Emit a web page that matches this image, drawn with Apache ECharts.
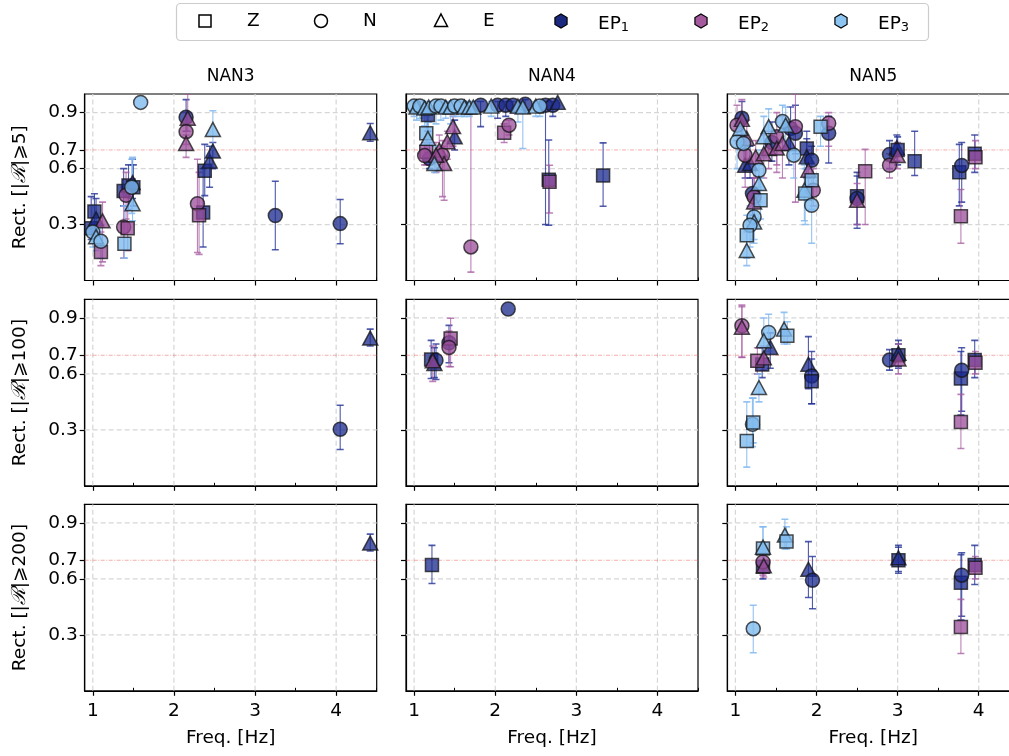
<!DOCTYPE html>
<html><head><meta charset="utf-8">
<script src="https://cdn.jsdelivr.net/npm/echarts@6/dist/echarts.min.js"></script>
<style>html,body{margin:0;padding:0;background:#fff}#c{width:1009px;height:756px}</style>
</head><body><div id="c"></div>
<script>
// ---------- axis ticks / labels ----------
const FREQ_TICKS = [1, 2, 3, 4];
const FREQ_MINOR = [1.5, 2.5, 3.5, 4.5];
const RECT_TICKS = [0.3, 0.6, 0.7, 0.9];
const RECT_GRID = [0.3, 0.6, 0.9];
const THRESHOLD = 0.7;
const STATIONS = ['NAN3', 'NAN4', 'NAN5'];
const THRESH_LABELS = ['5', '100', '200'];
const SHAPE_LABELS = ['Z', 'N', 'E'];
const EP_LABELS = ['1', '2', '3'];

// ---------- data: [freq, rect, errLow, errHigh, component] ----------
// NAN3, |R|>=5
const N3_R5_EP1 = [[1.02,0.37,0.30,0.465,'Z'],[0.98,0.28,0.22,0.45,'Z'],[1.04,0.33,0.26,0.44,'E'],[1.38,0.48,0.40,0.60,'Z'],[1.44,0.51,0.38,0.62,'Z'],[1.50,0.50,0.40,0.62,'Z'],[1.49,0.525,0.44,0.65,'E'],[2.15,0.875,0.80,0.97,'N'],[2.36,0.365,0.18,0.60,'Z'],[2.38,0.588,0.455,0.73,'Z'],[2.44,0.64,0.50,0.72,'E'],[2.48,0.694,0.60,0.74,'E'],[3.25,0.348,0.165,0.532,'N'],[4.05,0.305,0.197,0.434,'N'],[4.42,0.792,0.747,0.842,'E']];
const N3_R5_EP2 = [[1.12,0.32,0.10,0.42,'E'],[1.10,0.153,0.08,0.26,'Z'],[1.38,0.287,0.12,0.50,'N'],[1.43,0.28,0.16,0.45,'Z'],[1.41,0.457,0.33,0.58,'N'],[2.17,0.87,0.80,1.0,'E'],[2.15,0.798,0.73,0.90,'N'],[2.15,0.735,0.66,0.78,'E'],[2.29,0.412,0.15,0.65,'N'],[2.31,0.35,0.14,0.58,'Z']];
const N3_R5_EP3 = [[1.59,0.955,0.955,0.955,'N'],[1.00,0.26,0.18,0.40,'N'],[1.04,0.235,0.16,0.36,'E'],[1.10,0.21,0.12,0.30,'N'],[1.39,0.197,0.12,0.40,'Z'],[1.49,0.412,0.32,0.66,'E'],[1.48,0.50,0.36,0.65,'N'],[2.48,0.81,0.70,0.91,'E']];
// NAN4, |R|>=5
const N4_R5_EP1 = [[1.17,0.887,0.80,0.93,'Z'],[1.19,0.654,0.60,0.74,'N'],[1.50,0.77,0.70,0.86,'E'],[1.82,0.94,0.825,0.96,'N'],[2.03,0.94,0.87,0.96,'N'],[2.13,0.94,0.88,0.96,'N'],[2.22,0.94,0.90,0.96,'N'],[2.37,0.945,0.90,0.97,'N'],[2.62,0.94,0.30,0.96,'N'],[2.71,0.94,0.88,0.96,'N'],[2.77,0.955,0.955,0.955,'E'],[2.66,0.54,0.296,0.753,'Z'],[3.33,0.563,0.398,0.738,'Z']];
const N4_R5_EP2 = [[1.48,0.825,0.72,0.88,'E'],[1.41,0.744,0.65,0.80,'E'],[1.31,0.699,0.60,0.78,'E'],[1.15,0.69,0.62,0.76,'Z'],[1.13,0.67,0.62,0.74,'N'],[1.35,0.672,0.45,0.75,'N'],[1.37,0.627,0.43,0.72,'E'],[1.27,0.672,0.58,0.74,'E'],[2.11,0.792,0.74,0.84,'Z'],[2.17,0.833,0.78,0.86,'N'],[1.70,0.18,0.045,0.93,'N'],[2.67,0.529,0.362,0.618,'Z']];
const N4_R5_EP3 = [[1.00,0.935,0.88,0.96,'N'],[1.03,0.93,0.86,0.96,'E'],[1.07,0.935,0.87,0.96,'N'],[1.13,0.925,0.83,0.96,'E'],[1.18,0.93,0.85,0.96,'E'],[1.27,0.935,0.84,0.96,'N'],[1.33,0.935,0.86,0.96,'N'],[1.39,0.93,0.87,0.96,'E'],[1.45,0.93,0.84,0.96,'E'],[1.50,0.935,0.88,0.96,'N'],[1.58,0.935,0.88,0.96,'N'],[1.62,0.93,0.88,0.96,'E'],[1.68,0.93,0.88,0.96,'E'],[1.73,0.93,0.90,0.96,'E'],[1.95,0.935,0.88,0.96,'E'],[2.28,0.935,0.85,0.96,'E'],[2.34,0.93,0.708,0.96,'E'],[2.50,0.935,0.88,0.96,'E'],[2.55,0.935,0.88,0.96,'N'],[1.15,0.789,0.70,0.88,'Z'],[1.17,0.762,0.67,0.85,'E'],[1.25,0.627,0.58,0.72,'E']];
// NAN5, |R|>=5
const N5_R5_EP1 = [[1.08,0.87,0.78,0.96,'N'],[1.12,0.618,0.55,0.72,'E'],[1.18,0.627,0.55,0.72,'E'],[1.21,0.466,0.35,0.55,'N'],[1.45,0.74,0.64,0.85,'N'],[1.66,0.735,0.62,0.85,'E'],[1.68,0.815,0.70,0.93,'N'],[1.74,0.79,0.68,0.94,'N'],[2.15,0.79,0.63,0.88,'N'],[1.88,0.708,0.60,0.80,'Z'],[1.88,0.663,0.55,0.76,'E'],[1.94,0.645,0.55,0.72,'N'],[2.50,0.452,0.28,0.58,'Z'],[2.50,0.44,0.30,0.56,'N'],[2.90,0.676,0.60,0.75,'N'],[2.99,0.712,0.64,0.78,'E'],[3.00,0.70,0.62,0.77,'Z'],[3.21,0.64,0.563,0.80,'Z'],[3.76,0.58,0.40,0.73,'Z'],[3.79,0.617,0.42,0.74,'N'],[3.95,0.68,0.58,0.78,'Z']];
const N5_R5_EP2 = [[1.02,0.833,0.75,0.94,'N'],[1.08,0.864,0.74,0.97,'E'],[1.14,0.762,0.65,0.86,'E'],[1.12,0.672,0.50,0.78,'N'],[1.25,0.663,0.55,0.75,'E'],[1.23,0.448,0.30,0.60,'N'],[1.23,0.421,0.30,0.55,'E'],[1.41,0.708,0.60,0.80,'E'],[1.35,0.68,0.55,0.78,'E'],[1.51,0.771,0.62,0.90,'N'],[1.51,0.71,0.58,0.80,'E'],[1.58,0.735,0.55,0.88,'E'],[1.74,0.825,0.42,1.0,'N'],[2.15,0.843,0.72,0.90,'N'],[1.90,0.591,0.50,0.70,'E'],[1.96,0.484,0.40,0.60,'N'],[2.50,0.43,0.30,0.52,'E'],[2.60,0.586,0.30,0.703,'Z'],[2.90,0.618,0.55,0.68,'N'],[3.00,0.67,0.60,0.74,'E'],[3.78,0.344,0.20,0.488,'Z'],[3.96,0.661,0.60,0.75,'Z']];
const N5_R5_EP3 = [[1.02,0.744,0.60,0.84,'N'],[1.06,0.815,0.70,0.90,'E'],[1.10,0.735,0.60,0.85,'N'],[1.29,0.591,0.50,0.70,'N'],[1.29,0.52,0.42,0.62,'E'],[1.31,0.43,0.33,0.55,'Z'],[1.23,0.341,0.22,0.45,'N'],[1.23,0.314,0.20,0.42,'E'],[1.18,0.296,0.18,0.40,'N'],[1.14,0.242,0.12,0.35,'Z'],[1.14,0.161,0.08,0.26,'E'],[1.41,0.825,0.72,0.92,'E'],[1.35,0.771,0.66,0.88,'E'],[1.58,0.852,0.74,0.94,'N'],[1.62,0.833,0.72,0.93,'E'],[1.72,0.672,0.55,0.80,'N'],[2.05,0.825,0.72,0.88,'Z'],[1.94,0.538,0.38,0.66,'Z'],[1.85,0.484,0.32,0.62,'E'],[1.86,0.466,0.30,0.60,'Z'],[1.94,0.403,0.20,0.52,'N']];
// |R|>=100
const N3_R100_EP1 = [[4.05,0.303,0.195,0.432,'N'],[4.42,0.792,0.75,0.84,'E']];
const N3_R100_EP2 = [];
const N3_R100_EP3 = [];
const N4_R100_EP1 = [[1.21,0.677,0.575,0.78,'Z'],[1.27,0.673,0.57,0.76,'N'],[1.25,0.656,0.58,0.74,'E'],[1.43,0.767,0.66,0.86,'N'],[2.16,0.948,0.948,0.948,'N']];
const N4_R100_EP2 = [[1.45,0.79,0.638,0.898,'Z'],[1.43,0.742,0.64,0.83,'N'],[1.23,0.67,0.56,0.75,'E']];
const N4_R100_EP3 = [];
const N5_R100_EP1 = [[1.33,0.65,0.58,0.74,'Z'],[1.43,0.742,0.63,0.82,'E'],[1.90,0.652,0.52,0.80,'E'],[1.94,0.589,0.44,0.72,'N'],[1.94,0.56,0.44,0.68,'Z'],[2.90,0.674,0.62,0.73,'N'],[3.01,0.70,0.64,0.76,'Z'],[3.01,0.71,0.63,0.78,'E'],[3.78,0.575,0.38,0.72,'Z'],[3.79,0.62,0.40,0.74,'N'],[3.95,0.675,0.58,0.78,'Z']];
const N5_R100_EP2 = [[1.08,0.858,0.688,0.969,'N'],[1.08,0.85,0.69,0.96,'E'],[1.27,0.67,0.60,0.74,'Z'],[1.35,0.686,0.62,0.75,'E'],[3.01,0.68,0.60,0.76,'E'],[3.78,0.342,0.20,0.49,'Z'],[3.96,0.66,0.60,0.72,'Z']];
const N5_R100_EP3 = [[1.41,0.822,0.72,0.92,'N'],[1.35,0.778,0.70,0.90,'E'],[1.60,0.84,0.76,0.93,'E'],[1.64,0.805,0.76,0.88,'Z'],[1.29,0.527,0.45,0.60,'E'],[1.21,0.33,0.21,0.47,'N'],[1.22,0.34,0.23,0.47,'Z'],[1.14,0.24,0.10,0.45,'Z']];
// |R|>=200
const N3_R200_EP1 = [[4.42,0.792,0.75,0.84,'E']];
const N3_R200_EP2 = [];
const N3_R200_EP3 = [];
const N4_R200_EP1 = [[1.22,0.674,0.575,0.78,'Z']];
const N4_R200_EP2 = [];
const N4_R200_EP3 = [];
const N5_R200_EP1 = [[1.34,0.665,0.60,0.74,'Z'],[1.90,0.652,0.50,0.80,'E'],[1.95,0.593,0.44,0.72,'N'],[3.01,0.70,0.63,0.77,'Z'],[3.01,0.713,0.64,0.78,'E'],[3.78,0.58,0.38,0.73,'Z'],[3.79,0.62,0.40,0.74,'N'],[3.95,0.675,0.57,0.78,'Z']];
const N5_R200_EP2 = [[1.34,0.691,0.62,0.76,'N'],[1.35,0.67,0.61,0.74,'E'],[3.78,0.342,0.20,0.49,'Z'],[3.96,0.66,0.60,0.72,'Z']];
const N5_R200_EP3 = [[1.22,0.333,0.204,0.459,'N'],[1.34,0.763,0.66,0.88,'Z'],[1.34,0.77,0.68,0.88,'E'],[1.61,0.835,0.76,0.92,'E'],[1.63,0.80,0.76,0.88,'Z']];

const PANELS = [
  [[N3_R5_EP1,N3_R5_EP2,N3_R5_EP3],[N4_R5_EP1,N4_R5_EP2,N4_R5_EP3],[N5_R5_EP1,N5_R5_EP2,N5_R5_EP3]],
  [[N3_R100_EP1,N3_R100_EP2,N3_R100_EP3],[N4_R100_EP1,N4_R100_EP2,N4_R100_EP3],[N5_R100_EP1,N5_R100_EP2,N5_R100_EP3]],
  [[N3_R200_EP1,N3_R200_EP2,N3_R200_EP3],[N4_R200_EP1,N4_R200_EP2,N4_R200_EP3],[N5_R200_EP1,N5_R200_EP2,N5_R200_EP3]]
];

// ---------- styling / layout ----------
const FONT = '"DejaVu Sans", Verdana, sans-serif';
const FS = 18.5;
const TITLE_FS = 17;
const EP_FILL = ['rgba(26,40,140,0.75)', 'rgba(154,76,152,0.75)', 'rgba(127,186,238,0.8)'];
const EP_ERR  = ['rgba(35,50,150,0.8)', 'rgba(166,90,160,0.75)', 'rgba(130,185,240,0.85)'];
const EP_SOLID = ['#1b2a7e', '#a55a9e', '#8cc4f2'];
const SHAPE_SYM = {Z: ['rect', 13], N: ['circle', 14], E: ['triangle', [15, 14]]};
const COL_LEFT = [84.7, 406, 727.3], PANEL_W = 292;
const ROW_TOP = [94, 299.3, 504.3], PANEL_H = 186.5;

const grids = [], xAxes = [], yAxes = [], series = [];
for (let r = 0; r < 3; r++) {
  for (let c = 0; c < 3; c++) {
    const g = r * 3 + c;
    grids.push({left: COL_LEFT[c], top: ROW_TOP[r], width: PANEL_W, height: PANEL_H,
      show: true, borderColor: '#000', borderWidth: 1.2, backgroundColor: 'transparent',
      containLabel: false, outerBoundsMode: 'none'});
    xAxes.push({gridIndex: g, type: 'value', min: 0.9, max: 4.5,
      axisLine: {show: true, onZero: false, lineStyle: {color: '#000', width: 1.2}},
      axisTick: {show: true, customValues: FREQ_TICKS, length: 5, lineStyle: {color: '#000', width: 1.2}},
      axisLabel: {show: r === 2, customValues: FREQ_TICKS, margin: 11, color: '#000', fontSize: FS, fontFamily: FONT},
      splitLine: {show: false},
      name: r === 2 ? 'Freq. [Hz]' : '', nameLocation: 'middle', nameGap: 38,
      nameTextStyle: {color: '#000', fontSize: FS, fontFamily: FONT}});
    xAxes.push({gridIndex: g, type: 'value', min: 0.9, max: 4.5,
      axisLine: {show: false}, axisLabel: {show: false}, splitLine: {show: false},
      axisTick: {show: true, customValues: FREQ_MINOR, length: 3, lineStyle: {color: '#000', width: 1}}});
    yAxes.push({gridIndex: g, type: 'value', min: 0, max: 1,
      axisLine: {show: true, onZero: false, lineStyle: {color: '#000', width: 1.2}},
      axisTick: {show: true, customValues: RECT_TICKS, length: 5, lineStyle: {color: '#000', width: 1.2}},
      axisLabel: {show: c === 0, customValues: RECT_TICKS, margin: 7, color: '#000', fontSize: FS, fontFamily: FONT,
        formatter: v => v.toFixed(1)},
      splitLine: {show: false},
      name: c === 0 ? 'Rect. [|{s|\u211B}|\u2A7E' + THRESH_LABELS[r] + ']' : '', nameLocation: 'middle', nameGap: 55,
      nameRotate: 90, nameTextStyle: {color: '#000', fontSize: FS, fontFamily: FONT,
        rich: {s: {fontSize: FS + 1, fontFamily: '"DejaVu Serif", serif', fontStyle: 'italic', color: '#000'}}}});
    // grid lines and threshold line (drawn through the axes' scales)
    series.push({type: 'custom', xAxisIndex: 2 * g, yAxisIndex: g, silent: true, z: 1, clip: true,
      data: [[1, 0.5]], encode: {x: 0, y: 1},
      renderItem: (p, api) => {
        const ch = [];
        FREQ_TICKS.forEach(f => {
          const a = api.coord([f, 0]), b = api.coord([f, 1]);
          ch.push({type: 'line', shape: {x1: a[0], y1: a[1], x2: b[0], y2: b[1]},
            style: {stroke: '#d6d6d6', lineWidth: 1.2, lineDash: [5, 3]}});
        });
        RECT_GRID.forEach(v => {
          const a = api.coord([0.9, v]), b = api.coord([4.5, v]);
          ch.push({type: 'line', shape: {x1: a[0], y1: a[1], x2: b[0], y2: b[1]},
            style: {stroke: '#d6d6d6', lineWidth: 1.2, lineDash: [5, 3]}});
        });
        const a = api.coord([0.9, THRESHOLD]), b = api.coord([4.5, THRESHOLD]);
        ch.push({type: 'line', shape: {x1: a[0], y1: a[1], x2: b[0], y2: b[1]},
          style: {stroke: 'rgba(235,90,90,0.55)', lineWidth: 0.9, lineDash: [4, 1.5, 1, 1.5]}});
        return {type: 'group', children: ch};
      }});
    const eps = PANELS[r][c];
    // error bars
    eps.forEach((arr, e) => {
      if (!arr.length) return;
      series.push({type: 'custom', xAxisIndex: 2 * g, yAxisIndex: g, silent: true, z: 2, clip: true,
        data: arr.map(d => [d[0], d[2], d[3]]), encode: {x: 0, y: [1, 2]},
        renderItem: (p, api) => {
          const x = api.value(0), lo = api.value(1), hi = api.value(2);
          if (hi - lo < 1e-6) return null;
          const t = api.coord([x, hi]), b = api.coord([x, lo]);
          const st = {stroke: EP_ERR[e], lineWidth: 1.1};
          return {type: 'group', children: [
            {type: 'line', shape: {x1: t[0], y1: t[1], x2: b[0], y2: b[1]}, style: st},
            {type: 'line', shape: {x1: t[0] - 3.5, y1: t[1], x2: t[0] + 3.5, y2: t[1]}, style: {stroke: EP_ERR[e], lineWidth: 1.6}},
            {type: 'line', shape: {x1: b[0] - 3.5, y1: b[1], x2: b[0] + 3.5, y2: b[1]}, style: {stroke: EP_ERR[e], lineWidth: 1.6}}
          ]};
        }});
    });
    // markers
    eps.forEach((arr, e) => {
      if (!arr.length) return;
      series.push({type: 'scatter', xAxisIndex: 2 * g, yAxisIndex: g, z: 3 + e, silent: true, clip: false,
        data: arr.map(d => ({value: [d[0], d[1]], symbol: SHAPE_SYM[d[4]][0], symbolSize: SHAPE_SYM[d[4]][1]})),
        itemStyle: {color: EP_FILL[e], borderColor: 'rgba(20,20,20,0.75)', borderWidth: 1.5, opacity: 1}});
    });
  }
}

// ---------- titles and legend (graphic) ----------
const graphic = [];
STATIONS.forEach((s, c) => graphic.push({type: 'text', x: COL_LEFT[c] + PANEL_W / 2, y: 77,
  style: {text: s, font: TITLE_FS + 'px ' + FONT, fill: '#000', textAlign: 'center', textVerticalAlign: 'middle'}}));
graphic.push({type: 'rect', shape: {x: 176.5, y: 3.5, width: 752, height: 37, r: 4},
  style: {fill: '#fff', stroke: '#cccccc', lineWidth: 1.2}, z: 10});
const LY = 21;
const iconX = [205, 321, 441, 561, 701, 841];
const hex = (cx, cy, R) => { const p = []; for (let k = 0; k < 6; k++) { const a = -Math.PI / 2 + k * Math.PI / 3; p.push([cx + R * Math.cos(a), cy + R * Math.sin(a)]); } return p; };
graphic.push({type: 'rect', z: 11, shape: {x: iconX[0] - 6, y: LY - 6, width: 12, height: 12}, style: {fill: '#fff', stroke: '#000', lineWidth: 1.5}});
graphic.push({type: 'circle', z: 11, shape: {cx: iconX[1], cy: LY, r: 6.5}, style: {fill: '#fff', stroke: '#000', lineWidth: 1.5}});
graphic.push({type: 'polygon', z: 11, shape: {points: [[iconX[2], LY - 7], [iconX[2] + 6.5, LY + 5.5], [iconX[2] - 6.5, LY + 5.5]]}, style: {fill: '#fff', stroke: '#000', lineWidth: 1.5}});
for (let e = 0; e < 3; e++) graphic.push({type: 'polygon', z: 11, shape: {points: hex(iconX[3 + e], LY, 7)}, style: {fill: EP_SOLID[e], stroke: '#000', lineWidth: 1.2}});
SHAPE_LABELS.forEach((t, i) => graphic.push({type: 'text', z: 11, x: iconX[i] + 42, y: LY,
  style: {text: t, font: FS + 'px ' + FONT, fill: '#000', textVerticalAlign: 'middle'}}));
EP_LABELS.forEach((t, i) => graphic.push({type: 'text', z: 11, x: iconX[3 + i] + 37, y: LY + 2,
  style: {text: '{a|EP}{b|' + t + '}', textVerticalAlign: 'middle',
    rich: {a: {fontSize: FS, fontFamily: FONT, fill: '#000', verticalAlign: 'bottom', lineHeight: 22},
           b: {fontSize: 13, fontFamily: FONT, fill: '#000', verticalAlign: 'bottom', lineHeight: 9}}}}));

const chart = echarts.init(document.getElementById('c'), null, {renderer: 'canvas'});
chart.setOption({animation: false, backgroundColor: '#fff', grid: grids, xAxis: xAxes, yAxis: yAxes, series, graphic});
</script></body></html>
